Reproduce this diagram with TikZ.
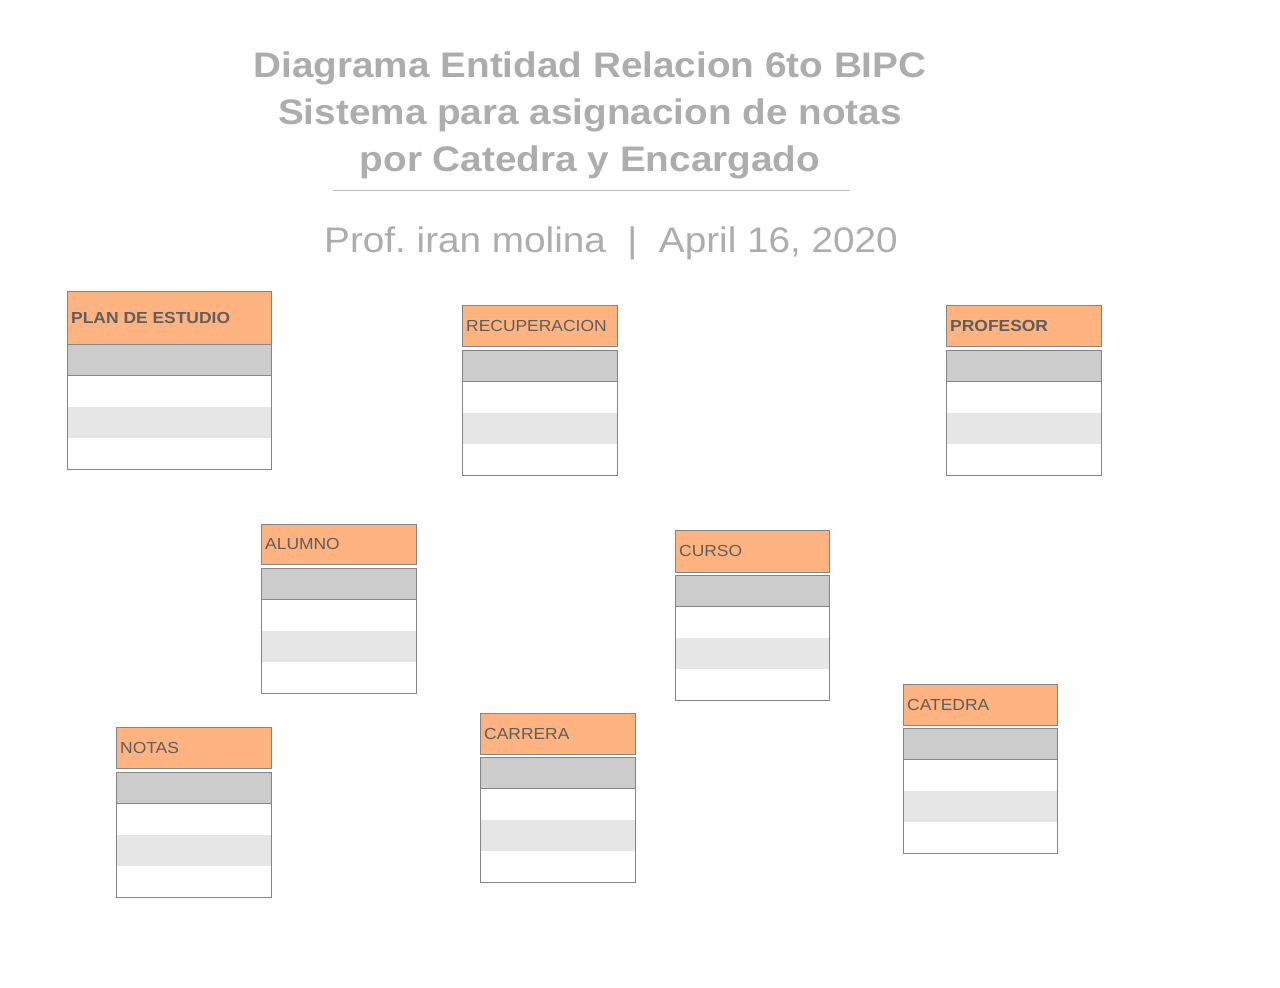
\documentclass[tikz,border=0pt]{standalone}
\usepackage{fontspec}
\setmainfont{Liberation Sans}
\newfontfamily\rotulo[FakeStretch=1.09]{Liberation Sans}
\usetikzlibrary{positioning}
\definecolor{encab}{HTML}{FFB380}
\definecolor{clave}{HTML}{CCCCCC}
\definecolor{franja}{HTML}{E6E6E6}
\definecolor{borde}{HTML}{858585}
\definecolor{letra}{HTML}{5E5E5E}
\definecolor{gristitulo}{HTML}{ADADAD}
\frenchspacing
\tikzset{
  encabezado/.style={draw=borde, fill=encab, anchor=north west, inner sep=0pt},
  etiqueta/.style={anchor=west, inner xsep=4pt, inner ysep=0pt, text=letra, font=\rotulo\fontsize{16}{19}\selectfont},
  fila/.style={inner sep=0pt, minimum height=30.7pt},
  titular/.style={text=gristitulo, inner sep=0pt, font=\rotulo\bfseries\fontsize{35.5}{47}\selectfont},
}
\newcommand{\entidad}[7]{%
  \node[encabezado, minimum width=#4pt, minimum height=#5pt] (#1) at (#2,#3) {};
  \node[etiqueta] (#1-t) at (#1.west) {#7};
  \node[fila, fill=clave, minimum width=#4pt, below=#6pt of #1.south west, anchor=north west] (#1-a) {};
  \node[fila, fill=white, minimum width=#4pt, below=0pt of #1-a.south west, anchor=north west] (#1-b) {};
  \node[fila, fill=franja, minimum width=#4pt, below=0pt of #1-b.south west, anchor=north west] (#1-c) {};
  \node[fila, fill=white, minimum width=#4pt, below=0pt of #1-c.south west, anchor=north west] (#1-d) {};
  \draw[borde] (#1-a.south west) -- (#1-a.south east);
  \draw[borde] (#1-a.north west) rectangle (#1-d.south east);
}
\begin{document}
\begin{tikzpicture}[x=1pt, y=-1pt]
\useasboundingbox[fill=white] (0,0) rectangle (1280,988);
\node[titular, align=center, anchor=north] (titulo) at (590,52) {Diagrama Entidad Relacion 6to BIPC\\Sistema para asignacion de notas\\por Catedra y Encargado};
\coordinate (rayaA) at (333,190);
\coordinate (rayaB) at (850,190);
\draw[gristitulo!80, line width=0.8pt] (rayaA) -- (rayaB);
\node[text=gristitulo, inner sep=0pt, anchor=base, font=\rotulo\fontsize{35.5}{42}\selectfont] (autor) at (611,252) {Prof. iran molina\ \ |\ \ April 16, 2020};
\entidad{plan}{67}{291}{204}{53}{0}{\bfseries PLAN DE ESTUDIO}
\entidad{recuperacion}{462}{305}{155}{41}{4}{RECUPERACION}
\entidad{profesor}{946}{305}{155}{41}{4}{\bfseries PROFESOR}
\entidad{alumno}{261}{524}{155}{40}{4}{ALUMNO}
\entidad{curso}{675}{530}{154}{42}{3}{CURSO}
\entidad{catedra}{903}{684}{154}{41}{3}{CATEDRA}
\entidad{notas}{116}{727}{155}{41}{4}{NOTAS}
\entidad{carrera}{480}{713}{155}{41}{3}{CARRERA}
\end{tikzpicture}
\end{document}
